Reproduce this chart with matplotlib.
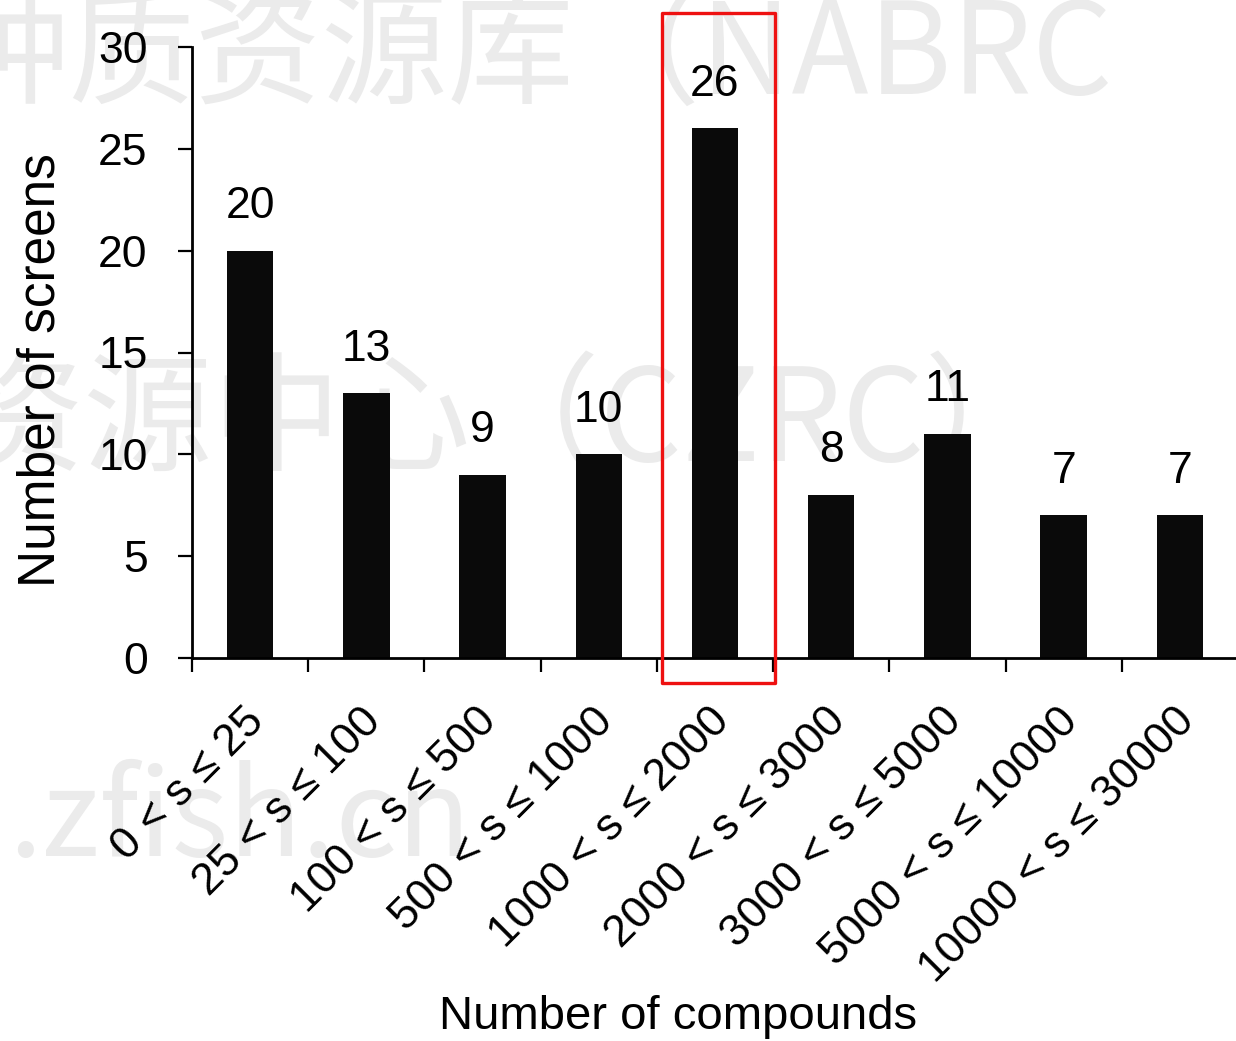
import matplotlib
matplotlib.use("Agg")
import matplotlib.pyplot as plt
import matplotlib.transforms as mtransforms
from matplotlib.patches import Rectangle

# data
categories = ["0 < s ≤ 25", "25 < s ≤ 100", "100 < s ≤ 500", "500 < s ≤ 1000",
              "1000 < s ≤ 2000", "2000 < s ≤ 3000", "3000 < s ≤ 5000",
              "5000 < s ≤ 10000", "10000 < s ≤ 30000"]
counts = [20, 13, 9, 10, 26, 8, 11, 7, 7]
highlight = 4
yticks = [0, 5, 10, 15, 20, 25, 30]

watermark = ["种质资源库（NABRC", "资源中心（CZRC）", ".zfish.cn"]

plt.rcParams['font.family'] = ['Liberation Sans', 'DejaVu Sans']

W, H = 1236, 1041
fig = plt.figure(figsize=(W / 100, H / 100), dpi=100)
fig.patch.set_facecolor('white')

# faint watermark behind everything
wm_font = ['Noto Sans CJK SC', 'DejaVu Sans']
wm_col = '#ebebeb'
fig.text(-58 / W, 1 - 58 / H, watermark[0], fontsize=91, color=wm_col,
         family=wm_font, va='center', ha='left', zorder=-5)
fig.text(-45 / W, 1 - 424 / H, watermark[1], fontsize=93, color=wm_col,
         family=wm_font, va='center', ha='left', zorder=-5)
fig.text(8 / W, 1 - 856 / H, watermark[2], fontsize=87, color=wm_col,
         family=wm_font, va='baseline', ha='left', zorder=-5)

ax = fig.add_axes([192 / W, 1 - 658 / H, 1046 / W, 611 / H])
ax.patch.set_alpha(0)

x = list(range(len(counts)))
ax.bar(x, counts, width=0.4, color='#0a0a0a', zorder=2)
for xi, c in zip(x, counts):
    ax.annotate(str(c), (xi, c), xytext=(0, 17), textcoords='offset points',
                ha='center', va='bottom', fontsize=32)

ax.set_xlim(-0.5, len(counts) - 0.5)
ax.set_ylim(0, 30)
ax.set_yticks(yticks)
ax.tick_params(axis='y', length=10, width=1.6, pad=22, labelsize=32)

# major ticks on the category boundaries, labels on minor ticks at centres
ax.set_xticks([i - 0.5 for i in x])
ax.set_xticklabels([])
ax.tick_params(axis='x', which='major', length=10, width=1.6)
ax.set_xticks(x, minor=True)
ax.set_xticklabels(categories, minor=True, rotation=45, ha='right',
                   va='center', rotation_mode='anchor', fontsize=32)
ax.tick_params(axis='x', which='minor', length=0, pad=41)
shift = mtransforms.ScaledTranslation(0.08, 0, fig.dpi_scale_trans)
for lab in ax.get_xticklabels(minor=True):
    lab.set_transform(lab.get_transform() + shift)

for s in ['top', 'right']:
    ax.spines[s].set_visible(False)
for s in ['left', 'bottom']:
    ax.spines[s].set_linewidth(2)

ax.set_ylabel("Number of screens", fontsize=37)
ax.yaxis.set_label_coords(-0.121, 0.471)
ax.set_xlabel("Number of compounds", fontsize=34)
ax.xaxis.set_label_coords(0.465, -0.551)

# red box around the highlighted bin
box = Rectangle((highlight - 0.46, -1.23), 0.98, 32.9, fill=False,
                edgecolor='#ee1111', linewidth=2.4, joinstyle='round',
                clip_on=False, zorder=5)
ax.add_patch(box)

fig.savefig("out.png", dpi=100)
